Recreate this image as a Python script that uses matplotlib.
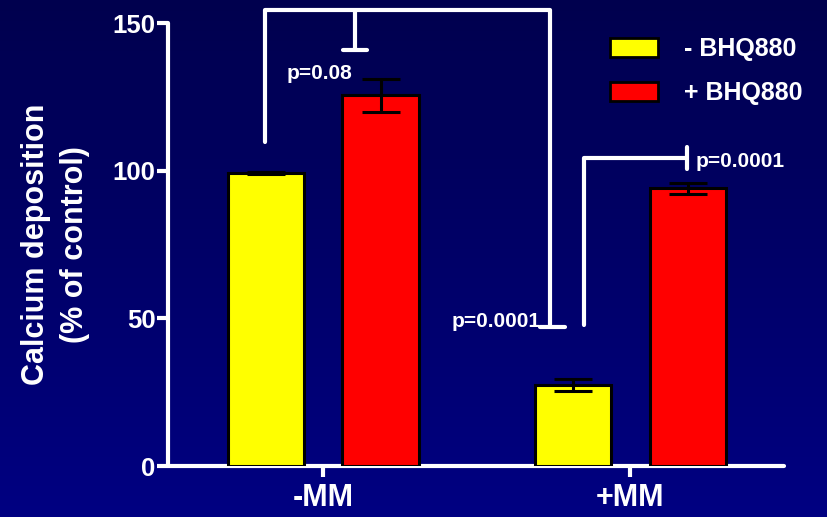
import numpy as np
import matplotlib
matplotlib.use("Agg")
import matplotlib.pyplot as plt
from matplotlib.patches import Patch
from matplotlib.colors import LinearSegmentedColormap

plt.rcParams['font.family'] = ['Liberation Sans', 'DejaVu Sans']
plt.rcParams['font.weight'] = 'bold'

groups = ["-MM", "+MM"]
series_names = ["- BHQ880", "+ BHQ880"]
minus_bhq = [99.2, 27.5]
minus_err = [0.4, 2.0]
plus_bhq = [125.5, 94.0]
plus_err = [5.5, 1.8]
colors = ["#ffff00", "#ff0000"]
yticks = [0, 50, 100, 150]

fig = plt.figure(figsize=(8.27, 5.17), dpi=100)
# gradient background
bg = fig.add_axes([0, 0, 1, 1])
grad = np.linspace(0, 1, 256).reshape(-1, 1)
cmap = LinearSegmentedColormap.from_list("bg", ["#00004e", "#000082"])
bg.imshow(grad, aspect='auto', cmap=cmap, extent=[0, 1, 1, 0])
bg.set_axis_off()

ax = fig.add_axes([0.2031, 0.0986, 0.948 - 0.2031, 0.9555 - 0.0986])
ax.patch.set_alpha(0)
x = np.arange(len(groups))
w = 0.248
off = 0.187
ax.bar(x - off, minus_bhq, w, color=colors[0], edgecolor='black', linewidth=2.2,
       yerr=minus_err, error_kw=dict(ecolor='black', elinewidth=2.2, capsize=14, capthick=2.2), zorder=3)
ax.bar(x + off, plus_bhq, w, color=colors[1], edgecolor='black', linewidth=2.2,
       yerr=plus_err, error_kw=dict(ecolor='black', elinewidth=2.2, capsize=14, capthick=2.2), zorder=3)

ax.set_xlim(-0.505, 1.5)
ax.set_ylim(0, 150)
ax.set_yticks(yticks)
ax.set_yticklabels([str(v) for v in yticks], color='white', fontsize=18.5, fontweight='bold')
ax.set_xticks(x)
ax.set_xticklabels(groups, color='white', fontsize=22, fontweight='bold')
for s in ['top', 'right']:
    ax.spines[s].set_visible(False)
for s in ['left', 'bottom']:
    ax.spines[s].set_color('white')
    ax.spines[s].set_linewidth(3)
    ax.spines[s].set_capstyle('round')
ax.tick_params(axis='both', colors='white', width=3, length=8)
ax.tick_params(axis='x', pad=4)
ax.tick_params(axis='y', pad=1)

ax.set_ylabel("Calcium deposition\n(% of control)", color='white', fontsize=22,
              fontweight='bold', linespacing=1.4, labelpad=16)

# significance brackets (white)
lk = dict(color='white', lw=3, clip_on=False, solid_capstyle='round', zorder=4)
# big bracket
bx0 = (265 - 323) / 307
bx1 = (550 - 323) / 307
ax.plot([bx0, bx0, bx1, bx1], [109.7, 154.4, 154.4, 47.2], **lk)
ax.plot([bx1 - 0.035, bx1 + 0.048], [47.2, 47.2], **lk)
mx = (355 - 323) / 307
ax.plot([mx, mx], [154.4, 140.9], **lk)
ax.plot([mx - 0.038, mx + 0.04], [140.9, 140.9], **lk)
ax.text(mx - 0.01, 133, "p=0.08", color='white', fontsize=15, fontweight='bold',
        ha='right', va='center')
ax.text(bx1 - 0.03, 49.0, "p=0.0001", color='white', fontsize=15, fontweight='bold',
        ha='right', va='center')
# second bracket
sx0 = (584 - 323) / 307
sx1 = (687 - 323) / 307
ax.plot([sx0, sx0, sx1], [47.7, 104.3, 104.3], **lk)
ax.plot([sx1, sx1], [100.6, 108.0], **lk)
ax.text(sx1 + 0.025, 103.0, "p=0.0001", color='white', fontsize=15, fontweight='bold',
        ha='left', va='center')

handles = [Patch(facecolor=colors[0], edgecolor='black', linewidth=2),
           Patch(facecolor=colors[1], edgecolor='black', linewidth=2)]
leg = fig.legend(handles, series_names, loc='upper left', bbox_to_anchor=(0.738, 0.928),
                 frameon=False, handlelength=1.9, handleheight=0.75,
                 labelspacing=0.8, handletextpad=1.05, labelcolor='white',
                 borderpad=0, borderaxespad=0,
                 prop=dict(weight='bold', size=18))

fig.savefig("out.png", dpi=100)
